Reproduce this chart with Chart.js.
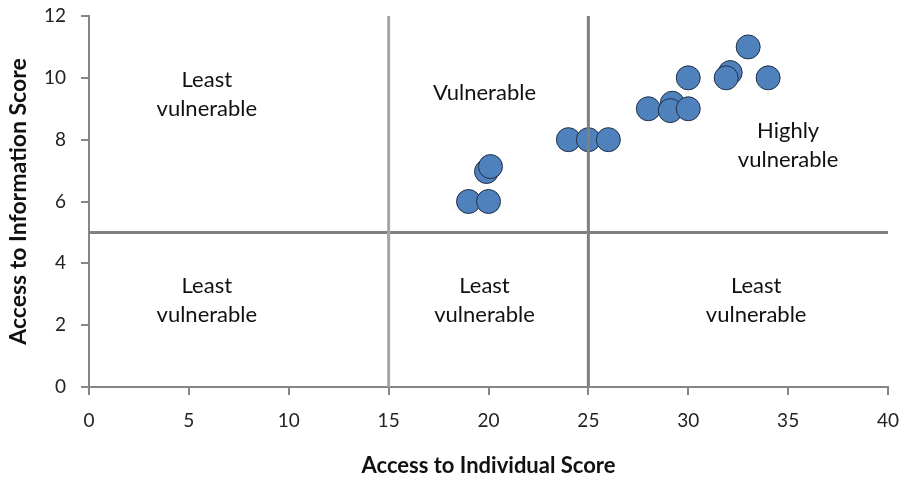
<!DOCTYPE html>
<html>
<head>
<meta charset="utf-8">
<script src="https://cdn.jsdelivr.net/npm/chart.js@4/dist/chart.umd.min.js"></script>
<style>
  html, body { margin: 0; padding: 0; background: #fff; }
  #wrap { width: 907px; height: 479px; }
</style>
</head>
<body>
<div id="wrap"><canvas id="c" width="907" height="479"></canvas></div>
<script>
// Scores per respondent group
const individualScores  = [19, 20, 19.9, 20.1, 24, 25, 26, 28, 29.2, 29.1, 30, 30, 32.1, 31.9, 34, 33];
const informationScores = [6, 6, 6.97, 7.13, 8, 8, 8, 9, 9.18, 8.94, 9, 10, 10.17, 10, 10, 11];

// Quadrant thresholds
const individualCuts = [15, 25];
const informationCut = 5;

// Axis ticks
const xTicks = [0, 5, 10, 15, 20, 25, 30, 35, 40];
const yTicks = [0, 2, 4, 6, 8, 10, 12];

// Region captions, anchored in score units
const regionNames = [
  { text: ['Least', 'vulnerable'], x: 5.9, y: 9.45 },
  { text: ['Vulnerable'], x: 19.8, y: 9.51 },
  { text: ['Highly', 'vulnerable'], x: 35.0, y: 7.82 },
  { text: ['Least', 'vulnerable'], x: 5.9, y: 2.8 },
  { text: ['Least', 'vulnerable'], x: 19.8, y: 2.8 },
  { text: ['Least', 'vulnerable'], x: 33.4, y: 2.8 }
];

const FONT = 'Lato, "Open Sans", sans-serif';

const points = individualScores.map((x, i) => ({ x, y: informationScores[i] }));

const dividerSets = [
  { data: [{ x: individualCuts[0], y: 0 }, { x: individualCuts[0], y: 12 }], color: '#a6a6a6' },
  { data: [{ x: individualCuts[1], y: 0 }, { x: individualCuts[1], y: 12 }], color: '#808080' },
  { data: [{ x: 0, y: informationCut }, { x: 40, y: informationCut }], color: '#808080' }
].map(d => ({
  type: 'line',
  data: d.data,
  borderColor: d.color,
  borderWidth: 3,
  pointRadius: 0,
  showLine: true,
  fill: false,
  order: 0
}));

const captionPlugin = {
  id: 'regionCaptions',
  afterDatasetsDraw(chart) {
    const { ctx, scales } = chart;
    ctx.save();
    ctx.font = '22px ' + FONT;
    ctx.fillStyle = '#111';
    ctx.textAlign = 'center';
    ctx.textBaseline = 'middle';
    const lh = 29;
    regionNames.forEach(r => {
      const cx = scales.x.getPixelForValue(r.x);
      const cy = scales.y.getPixelForValue(r.y);
      const n = r.text.length;
      r.text.forEach((t, i) => {
        ctx.fillText(t, cx, cy + (i - (n - 1) / 2) * lh);
      });
    });
    ctx.restore();
  }
};

new Chart(document.getElementById('c'), {
  type: 'scatter',
  data: {
    datasets: [
      ...dividerSets,
      {
        label: 'Groups',
        data: points,
        backgroundColor: '#4f81bd',
        borderColor: '#1f2f45',
        borderWidth: 1,
        pointRadius: 12,
        pointHoverRadius: 12,
        order: 1
      }
    ]
  },
  options: {
    responsive: false,
    animation: false,
    events: [],
    layout: { padding: { left: 0, right: 19, top: 16, bottom: 0 } },
    plugins: {
      legend: { display: false },
      tooltip: { enabled: false }
    },
    scales: {
      x: {
        type: 'linear',
        min: 0, max: 40,
        afterBuildTicks: s => { s.ticks = xTicks.map(v => ({ value: v })); },
        afterFit: s => { s.height = 92; s.paddingLeft = 0; s.paddingRight = 0; },
        border: { color: '#868686', width: 2 },
        grid: { drawOnChartArea: false, color: '#868686', lineWidth: 2, tickLength: 8 },
        ticks: { color: '#222', font: { family: FONT, size: 19 }, padding: 14 },
        title: {
          display: true,
          text: 'Access to Individual Score',
          color: '#111',
          font: { family: FONT, size: 22, weight: 'bold' },
          padding: { top: 0, bottom: 0 }
        }
      },
      y: {
        type: 'linear',
        min: 0, max: 12,
        afterBuildTicks: s => { s.ticks = yTicks.map(v => ({ value: v })); },
        afterFit: s => { s.width = 89; s.paddingTop = 0; s.paddingBottom = 0; },
        border: { color: '#868686', width: 2 },
        grid: { drawOnChartArea: false, color: '#868686', lineWidth: 2, tickLength: 8 },
        ticks: { color: '#222', font: { family: FONT, size: 19 }, padding: 15 },
        title: {
          display: true,
          text: 'Access to Information Score',
          color: '#111',
          font: { family: FONT, size: 23, weight: 'bold' },
          padding: { top: 5, bottom: 0 }
        }
      }
    }
  },
  plugins: [captionPlugin]
});
</script>
</body>
</html>
